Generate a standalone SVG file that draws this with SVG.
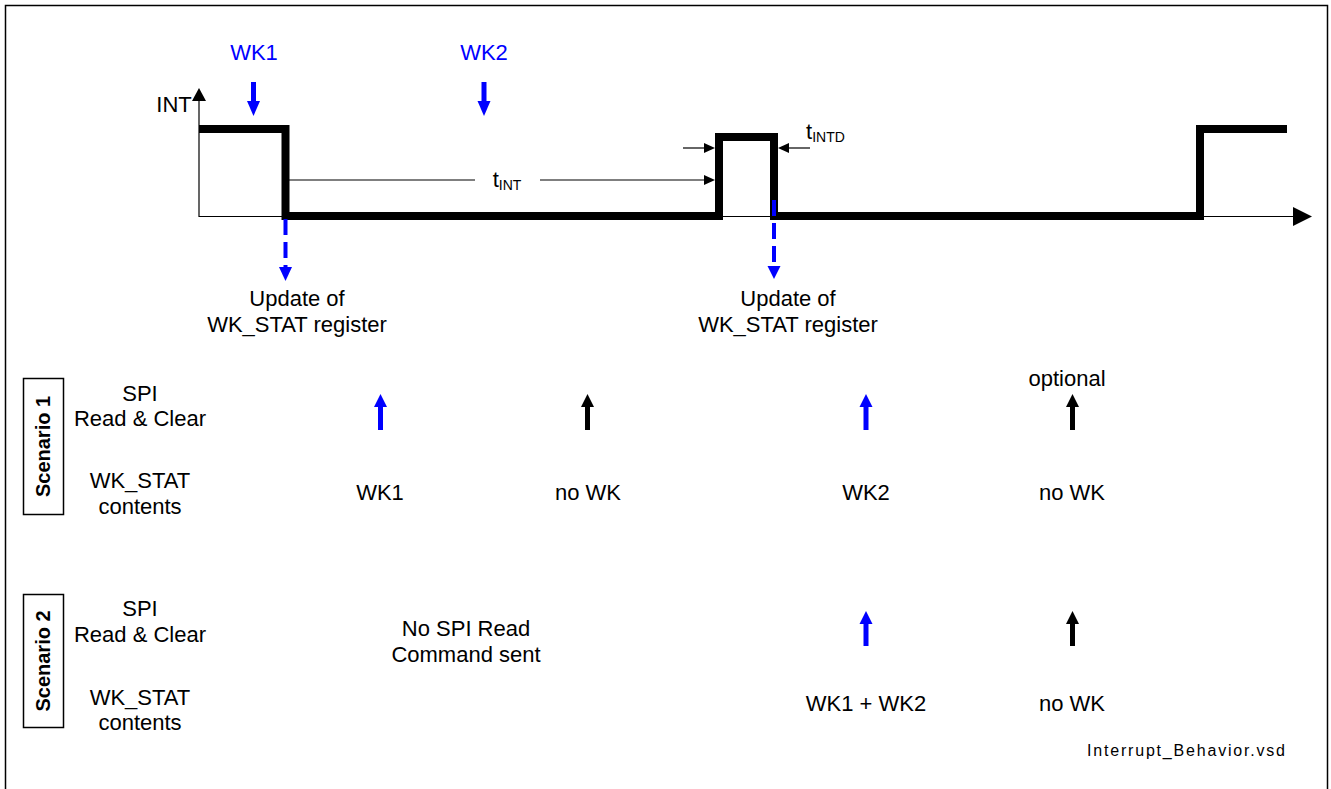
<svg xmlns="http://www.w3.org/2000/svg" width="1331" height="789" viewBox="0 0 1331 789">
<style>
text{font-family:"Liberation Sans",Arial,sans-serif;font-size:22px;fill:#000;text-anchor:middle}
.blue{fill:#0000ff}
.thin{stroke:#000;stroke-width:1.2;fill:none}
.wave{stroke:#000;stroke-width:8;fill:none;stroke-linejoin:miter;stroke-linecap:butt}
.dash{stroke:#0000ff;stroke-width:4;stroke-dasharray:16 7;fill:none}
.bshaft{stroke:#0000ff;stroke-width:5}
.kshaft{stroke:#000;stroke-width:5}
.scen{font-weight:bold;font-size:20px}
.sub{font-size:14px}
</style>
<rect x="5.5" y="5.5" width="1322" height="820" fill="#fff" stroke="#000" stroke-width="1.5"/>

<g id="axes">
  <line class="thin" x1="199" y1="217" x2="199" y2="100"/>
  <polygon points="192,101 206,101 199,88"/>
  <line class="thin" x1="199" y1="216.5" x2="1295" y2="216.5"/>
  <polygon points="1293,207 1312,216.5 1293,226"/>
  <text x="174" y="112">INT</text>
</g>

<g id="waveform">
  <path class="wave" d="M199,129 H285.5 V216 H719 V137 H774 V216 H1200 V129 H1287"/>
</g>

<g id="wakeups">
  <text class="blue" x="254" y="60">WK1</text>
  <line class="bshaft" x1="253.5" y1="82" x2="253.5" y2="103"/>
  <polygon class="blue" points="247,101 260,101 253.5,116"/>
  <text class="blue" x="484" y="60">WK2</text>
  <line class="bshaft" x1="484" y1="82" x2="484" y2="103"/>
  <polygon class="blue" points="477.5,101 490.5,101 484,116"/>
</g>

<g id="timing">
  <line class="thin" x1="289" y1="180" x2="475" y2="180"/>
  <line class="thin" x1="540" y1="180" x2="706" y2="180"/>
  <polygon points="704,175 715,180 704,185"/>
  <text x="507" y="187">t<tspan class="sub" dy="3">INT</tspan></text>
  <line class="thin" x1="683" y1="148" x2="706" y2="148"/>
  <polygon points="704,143 715,148 704,153"/>
  <line class="thin" x1="810" y1="148" x2="787" y2="148"/>
  <polygon points="789,143 778,148 789,153"/>
  <text x="806" y="139" style="text-anchor:start">t<tspan class="sub" dy="3">INTD</tspan></text>
</g>

<g id="updates">
  <line class="dash" x1="285.5" y1="219" x2="285.5" y2="268"/>
  <polygon class="blue" points="279,267 292,267 285.5,281"/>
  <text x="297" y="306">Update of</text>
  <text x="297" y="332">WK_STAT register</text>
  <line class="dash" x1="774" y1="200" x2="774" y2="266"/>
  <polygon class="blue" points="767.5,266 780.5,266 774,279"/>
  <text x="788" y="306">Update of</text>
  <text x="788" y="332">WK_STAT register</text>
</g>

<g id="scenario1">
  <rect x="23.5" y="378.5" width="40" height="136" fill="none" stroke="#000" stroke-width="1.5"/>
  <text class="scen" transform="translate(50,446.5) rotate(-90)">Scenario 1</text>
  <text x="140" y="401">SPI</text>
  <text x="140" y="426">Read &amp; Clear</text>
  <text x="140" y="488">WK_STAT</text>
  <text x="140" y="514">contents</text>
  <text x="1067" y="386">optional</text>
  <line class="bshaft" x1="380.5" y1="430" x2="380.5" y2="405"/>
  <polygon class="blue" points="374,407 387,407 380.5,394"/>
  <line class="kshaft" x1="587.5" y1="430" x2="587.5" y2="405"/>
  <polygon points="581,407 594,407 587.5,394"/>
  <line class="bshaft" x1="866" y1="430" x2="866" y2="405"/>
  <polygon class="blue" points="859.5,407 872.5,407 866,394"/>
  <line class="kshaft" x1="1072.5" y1="430" x2="1072.5" y2="405"/>
  <polygon points="1066,407 1079,407 1072.5,394"/>
  <text x="380" y="500">WK1</text>
  <text x="588" y="500">no WK</text>
  <text x="866" y="500">WK2</text>
  <text x="1072" y="500">no WK</text>
</g>

<g id="scenario2">
  <rect x="23.5" y="594.5" width="40" height="133" fill="none" stroke="#000" stroke-width="1.5"/>
  <text class="scen" transform="translate(50,661) rotate(-90)">Scenario 2</text>
  <text x="140" y="616">SPI</text>
  <text x="140" y="642">Read &amp; Clear</text>
  <text x="140" y="705">WK_STAT</text>
  <text x="140" y="730">contents</text>
  <text x="466" y="636">No SPI Read</text>
  <text x="466" y="662">Command sent</text>
  <line class="bshaft" x1="866" y1="646" x2="866" y2="622"/>
  <polygon class="blue" points="859.5,624 872.5,624 866,611"/>
  <line class="kshaft" x1="1072.5" y1="646" x2="1072.5" y2="622"/>
  <polygon points="1066,624 1079,624 1072.5,611"/>
  <text x="866" y="711">WK1 + WK2</text>
  <text x="1072" y="711">no WK</text>
</g>

<g id="footer">
  <text x="1186" y="756" style="font-size:16px" textLength="198">Interrupt_Behavior.vsd</text>
</g>
</svg>
